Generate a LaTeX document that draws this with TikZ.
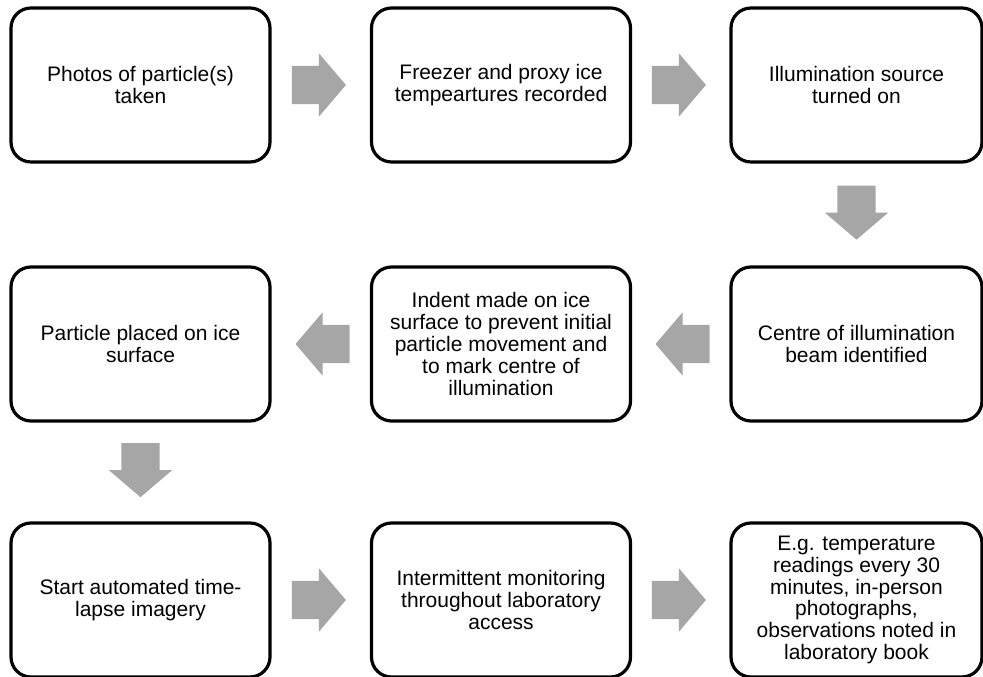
\documentclass[tikz,border=0pt]{standalone}
\usepackage{fontspec}
\setmainfont{Liberation Sans}
\usetikzlibrary{shapes.arrows,calc}
\definecolor{arrowgray}{RGB}{166,166,166}
\tikzset{
  stage/.style={draw, line width=3.2pt, rounded corners=20pt, minimum width=259pt,
    minimum height=154pt, align=center, inner sep=0pt,
    font=\fontsize{21}{21.8}\selectfont},
  flow/.style={single arrow, fill=arrowgray, draw=none, inner xsep=0pt, inner ysep=19pt,
    minimum height=54pt, single arrow head extend=12.5pt,
    single arrow tip angle=99, single arrow head indent=0pt}
}
\begin{document}
\begin{tikzpicture}[x=1pt,y=1pt]
        \useasboundingbox (0,0) rectangle (983,677);
        %% first row
        \node[stage] (photos) at (140.5,592) {Photos of particle(s)\\taken};
        \node[stage] (freezer) at (501,592) {Freezer and proxy ice\\tempeartures recorded};
        \node[stage,minimum width=251pt] (source) at (856.5,592) {Illumination source\\turned on};
        %% second row
        \node[stage,minimum width=251pt] (beam) at (856.5,333) {Centre of illumination\\beam identified};
        \node[stage] (indent) at (501,333) {Indent made on ice\\surface to prevent initial\\particle movement and\\to mark centre of\\illumination};
        \node[stage] (placed) at (140.5,333) {Particle placed on ice\\surface};
        %% third row
        \node[stage] (lapse) at (140.5,77) {Start automated time-\\lapse imagery};
        \node[stage] (monitor) at (501,77) {Intermittent monitoring\\throughout laboratory\\access};
        \node[stage,minimum width=251pt] (eg) at (856.5,77) {E.g. temperature\\readings every 30\\minutes, in-person\\photographs,\\observations noted in\\laboratory book};
        %% arrows (pulled back 10pt, the shape's centre sits on its shaft)
        \node[flow] at ($(photos.east)!0.5!(freezer.west)!-10pt!(freezer.west)$) {};
        \node[flow] at ($(freezer.east)!0.5!(source.west)!-10pt!(source.west)$) {};
        \node[flow,rotate=-90] at ($(source.south)!0.5!(beam.north)!-10pt!(beam.north)$) {};
        \node[flow,rotate=180] at ($(beam.west)!0.5!(indent.east)!-10pt!(indent.east)$) {};
        \node[flow,rotate=180] at ($(indent.west)!0.5!(placed.east)!-10pt!(placed.east)$) {};
        \node[flow,rotate=-90] at ($(placed.south)!0.5!(lapse.north)!-10pt!(lapse.north)$) {};
        \node[flow] at ($(lapse.east)!0.5!(monitor.west)!-10pt!(monitor.west)$) {};
        \node[flow] at ($(monitor.east)!0.5!(eg.west)!-10pt!(eg.west)$) {};
    \end{tikzpicture}
\end{document}
